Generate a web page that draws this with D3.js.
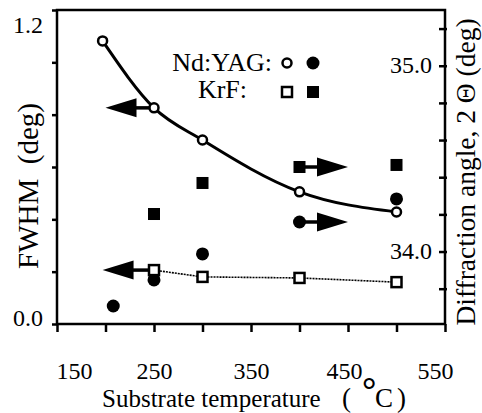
<!DOCTYPE html>
<html>
<head>
<meta charset="utf-8">
<script src="https://cdn.jsdelivr.net/npm/d3@7"></script>
<style>
  body { margin: 0; background: #fff; }
  text { font-family: "Liberation Serif", "Times New Roman", serif; fill: #000; }
</style>
</head>
<body>
<svg width="482" height="413"></svg>
<script>
// FWHM (left axis), open symbols
var yagFwhmTemp = [197, 250, 300, 400, 500];
var yagFwhm     = [1.082, 0.826, 0.703, 0.505, 0.428];
var krfFwhmTemp = [250, 300, 400, 500];
var krfFwhm     = [0.206, 0.180, 0.176, 0.160];
// Diffraction angle 2-theta (right axis), filled symbols
var yagAngTemp  = [208, 250, 300, 400, 500];
var yagAng      = [33.707, 33.847, 33.987, 34.159, 34.283];
var krfAngTemp  = [250, 300, 400, 500];
var krfAng      = [34.202, 34.369, 34.455, 34.466];

var xTicks      = [150, 200, 250, 300, 350, 400, 450, 500, 550];
var xLabels     = [150, 250, 350, 450, 550];
var fwhmTicks   = [0, 0.2, 0.4, 0.6, 0.8, 1.0, 1.2];
var fwhmLabels  = [0, 1.2];
var angTicks    = [33.8, 34.0, 34.2, 34.4, 34.6, 34.8, 35.0, 35.2];
var angLabels   = [34.0, 35.0];

// arrows pointing to the axis each series belongs to
var arrows = [
  {from: 250, to: 200, v: 0.826, axis: "L"},
  {from: 250, to: 197, v: 0.206, axis: "L"},
  {from: 400, to: 450, v: 34.455, axis: "R"},
  {from: 400, to: 450, v: 34.159, axis: "R"}
];

var svg = d3.select("svg"),
    mLeft = 57, mRight = 445, mTop = 10, mBottom = 324;

var x = d3.scaleLinear().domain([150, 550]).range([mLeft, mRight]);
var yL = d3.scaleLinear().domain([0, 1.2]).range([mBottom, mTop]);
var yR = d3.scaleLinear().domain([33.61, 35.3]).range([mBottom, mTop]);

// frame
svg.append("rect")
    .attr("x", mLeft).attr("y", mTop)
    .attr("width", mRight - mLeft).attr("height", mBottom - mTop)
    .attr("fill", "none").attr("stroke", "#000").attr("stroke-width", 2.5);

// bottom axis
var xAxis = svg.append("g")
    .attr("transform", "translate(0," + mBottom + ")")
    .call(d3.axisBottom(x).tickValues(xTicks).tickSize(8).tickPadding(30)
      .tickFormat(function(d) { return xLabels.indexOf(d) >= 0 ? d : ""; }));
xAxis.select(".domain").remove();
xAxis.selectAll("line").attr("stroke-width", 2.5);
xAxis.selectAll("text")
    .attr("font-size", 24)
    .attr("font-family", null)
    .attr("dx", function(d) { return d === 150 ? 17 : d === 550 ? -10 : d === 450 ? -4 : 0; });

// left axis
var lAxis = svg.append("g")
    .attr("transform", "translate(" + mLeft + ",0)")
    .call(d3.axisLeft(yL).tickValues(fwhmTicks).tickSize(5).tickPadding(9)
      .tickFormat(function(d) { return fwhmLabels.indexOf(d) >= 0 ? d3.format(".1f")(d) : ""; }));
lAxis.select(".domain").remove();
lAxis.selectAll("line").attr("stroke-width", 2.5);
lAxis.selectAll("text")
    .attr("font-size", 24)
    .attr("font-family", null)
    .attr("dy", function(d) { return d === 1.2 ? "0.95em" : "0.05em"; });

// right axis (ticks and labels inside the frame)
var rAxis = svg.append("g")
    .attr("transform", "translate(" + mRight + ",0)")
    .call(d3.axisLeft(yR).tickValues(angTicks).tickSize(6).tickPadding(7)
      .tickFormat(function(d) { return angLabels.some(function(a) { return Math.abs(a - d) < 1e-6; }) ? d3.format(".1f")(d) : ""; }));
rAxis.select(".domain").remove();
rAxis.selectAll("line").attr("stroke-width", 2.5).attr("x2", -6).attr("x1", 2);
rAxis.selectAll("text")
    .attr("font-size", 24)
    .attr("font-family", null)
    .attr("dy", "0.28em");

// axis titles
svg.append("text")
    .attr("transform", "translate(38,186)rotate(-90)")
    .attr("text-anchor", "middle")
    .attr("font-size", 29)
    .attr("xml:space", "preserve")
    .text("FWHM  (deg)");

svg.append("text")
    .attr("transform", "translate(475,172)rotate(-90)")
    .attr("text-anchor", "middle")
    .attr("font-size", 27.5)
    .text("Diffraction angle, 2 \u0398 (deg)");

var xt = svg.append("text")
    .attr("y", 407)
    .attr("font-size", 25);
xt.append("tspan").attr("x", 102).text("Substrate temperature");
xt.append("tspan").attr("x", 342).attr("font-size", 27).text("(");
xt.append("tspan").attr("x", 362).attr("dy", -5).attr("font-weight", "bold")
    .attr("font-size", 36).text("\u00b0");
xt.append("tspan").attr("x", 375).attr("dy", 5).attr("font-size", 27).text("C");
xt.append("tspan").attr("x", 397).attr("font-size", 27).text(")");

// lines
var line = d3.line()
    .x(function(d) { return x(d[0]); })
    .y(function(d) { return yL(d[1]); });

svg.append("path")
    .datum(d3.zip(yagFwhmTemp, yagFwhm))
    .attr("d", line.curve(d3.curveMonotoneX))
    .attr("fill", "none").attr("stroke", "#000").attr("stroke-width", 3);

svg.append("path")
    .datum(d3.zip(krfFwhmTemp, krfFwhm))
    .attr("d", line.curve(d3.curveLinear))
    .attr("fill", "none").attr("stroke", "#000").attr("stroke-width", 1.6)
    .attr("stroke-dasharray", "2 1");

// arrows
var ag = svg.append("g");
arrows.forEach(function(a) {
  var y = a.axis === "L" ? yL(a.v) : yR(a.v);
  var x0 = x(a.from), x1 = x(a.to);
  var dir = x1 > x0 ? 1 : -1;
  var base = x1 - dir * 31;
  ag.append("line")
      .attr("x1", x0).attr("x2", base + dir * 2).attr("y1", y).attr("y2", y)
      .attr("stroke", "#000").attr("stroke-width", 3.5);
  ag.append("path")
      .attr("d", "M" + x1 + "," + y + "L" + base + "," + (y - 9.5) + "L" + base + "," + (y + 9.5) + "Z")
      .attr("fill", "#000");
});

// filled circles (Nd:YAG, angle)
svg.append("g").selectAll("circle")
    .data(d3.zip(yagAngTemp, yagAng))
    .enter().append("circle")
    .attr("cx", function(d) { return x(d[0]); })
    .attr("cy", function(d) { return yR(d[1]); })
    .attr("r", 6.5).attr("fill", "#000");

// filled squares (KrF, angle)
svg.append("g").selectAll("rect")
    .data(d3.zip(krfAngTemp, krfAng))
    .enter().append("rect")
    .attr("x", function(d) { return x(d[0]) - 6; })
    .attr("y", function(d) { return yR(d[1]) - 6; })
    .attr("width", 12).attr("height", 12).attr("fill", "#000");

// open squares (KrF, FWHM)
svg.append("g").selectAll("rect")
    .data(d3.zip(krfFwhmTemp, krfFwhm))
    .enter().append("rect")
    .attr("x", function(d) { return x(d[0]) - 5; })
    .attr("y", function(d) { return yL(d[1]) - 5; })
    .attr("width", 10).attr("height", 10)
    .attr("fill", "#fff").attr("stroke", "#000").attr("stroke-width", 2.5);

// open circles (Nd:YAG, FWHM)
svg.append("g").selectAll("circle")
    .data(d3.zip(yagFwhmTemp, yagFwhm))
    .enter().append("circle")
    .attr("cx", function(d) { return x(d[0]); })
    .attr("cy", function(d) { return yL(d[1]); })
    .attr("r", 4.5)
    .attr("fill", "#fff").attr("stroke", "#000").attr("stroke-width", 2.5);

// legend
var legend = svg.append("g");
legend.append("text").attr("x", 272).attr("y", 71).attr("text-anchor", "end")
    .attr("font-size", 26).text("Nd:YAG:");
legend.append("text").attr("x", 247).attr("y", 98).attr("text-anchor", "end")
    .attr("font-size", 26).text("KrF:");
legend.append("circle").attr("cx", 287).attr("cy", 63).attr("r", 4.5)
    .attr("fill", "#fff").attr("stroke", "#000").attr("stroke-width", 2.5);
legend.append("circle").attr("cx", 313).attr("cy", 63).attr("r", 6.5).attr("fill", "#000");
legend.append("rect").attr("x", 282).attr("y", 87).attr("width", 10).attr("height", 10)
    .attr("fill", "#fff").attr("stroke", "#000").attr("stroke-width", 2.5);
legend.append("rect").attr("x", 307).attr("y", 86).attr("width", 12).attr("height", 12).attr("fill", "#000");
</script>
</body>
</html>
